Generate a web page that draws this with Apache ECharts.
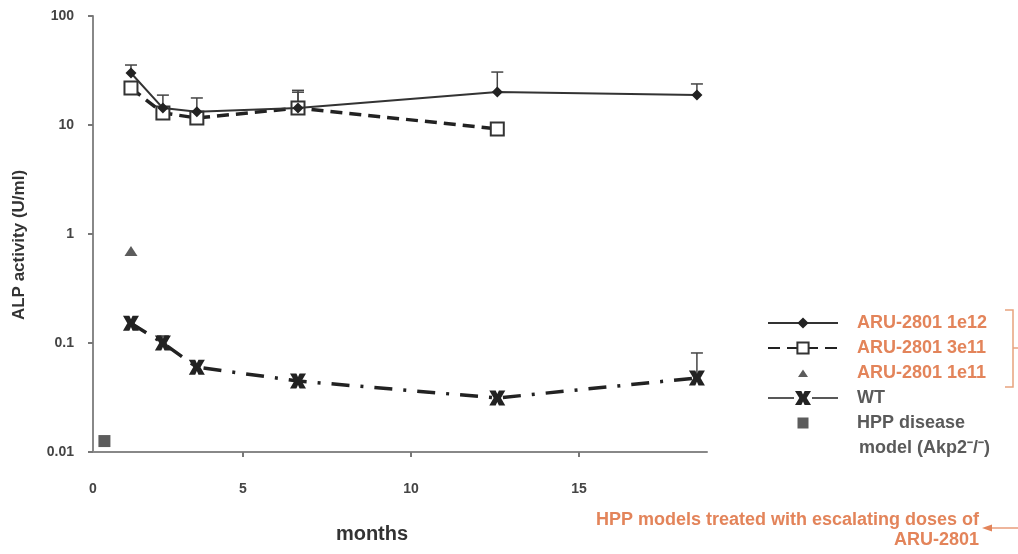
<!DOCTYPE html>
<html>
<head>
<meta charset="utf-8">
<script src="https://cdn.jsdelivr.net/npm/echarts@6/dist/echarts.min.js"></script>
<style>html,body{margin:0;padding:0;background:#fff}#c{width:1018px;height:554px}</style>
</head>
<body>
<div id="c"></div>
<script>
// ---- data ----
const months = [1.67, 2.62, 3.63, 6.64, 12.57, 18.51];
const aru1e12 = [30, 14.3, 13.2, 14.3, 20.1, 18.8];
const aru1e12Err = [35.5, 18.8, 17.7, 20, 30.6, 23.8];
const months3e11 = [1.67, 2.62, 3.63, 6.64, 12.57];
const aru3e11 = [21.8, 12.9, 11.6, 14.3, 9.2];
const aru3e11Err = [null, null, null, 20.8, null];
const months1e11 = [1.67];
const aru1e11 = [0.70];
const wt = [0.152, 0.100, 0.060, 0.0448, 0.0313, 0.0478];
const wtErr = [null, 0.116, null, null, null, 0.081];
const hppMonths = [0.88];
const hpp = [0.0126];
const xTickValues = [5, 10, 15];
const names = ['ARU-2801 1e12', 'ARU-2801 3e11', 'ARU-2801 1e11', 'WT', 'HPP disease model (Akp2\u207B/\u207B)'];

const xMin = 0.54, xMax = 18.81;
const ORANGE = '#e3845a';
const GREY = '#333';
const LGREY = '#5a5a5a';
const FONT = 'Liberation Sans';

function pairs(xs, ys) { return xs.map((x, i) => [x, ys[i]]); }
function errData(xs, ys, tops) {
  const out = [];
  xs.forEach((x, i) => { if (tops[i] != null) out.push([x, ys[i], tops[i]]); });
  return out;
}
function errSeries(data) {
  return {
    type: 'custom', silent: true, z: 1,
    data: data,
    renderItem: function (params, api) {
      const p0 = api.coord([api.value(0), api.value(1)]);
      const p1 = api.coord([api.value(0), api.value(2)]);
      return {
        type: 'group', children: [
          { type: 'line', shape: { x1: p0[0], y1: p0[1], x2: p1[0], y2: p1[1] }, style: { stroke: '#444', lineWidth: 1.5 } },
          { type: 'line', shape: { x1: p1[0] - 6, y1: p1[1], x2: p1[0] + 6, y2: p1[1] }, style: { stroke: '#444', lineWidth: 1.5 } }
        ]
      };
    }
  };
}
const xPath = 'path://M0,0 L4,0 L5,2.4 L6,0 L10,0 L7.3,5 L10,10 L6,10 L5,7.6 L4,10 L0,10 L2.7,5 Z';
const triIcon = 'path://M0,0 M14,14 M7,3.5 L12,11 L2,11 Z';
const sqIcon = 'path://M0,0 M14,14 M1.5,1.5 L12.5,1.5 L12.5,12.5 L1.5,12.5 Z';
const wtIcon = 'path://M0,6.2 L26,6.2 L26,7.8 L0,7.8 Z M44,6.2 L70,6.2 L70,7.8 L44,7.8 Z ' +
  'M27,0 L33.4,0 L35,3.4 L36.6,0 L43,0 L38.7,7 L43,14 L36.6,14 L35,10.6 L33.4,14 L27,14 L31.3,7 Z';

const chart = echarts.init(document.getElementById('c'));
chart.setOption({
  animation: false,
  backgroundColor: '#fff',
  grid: { left: 93, right: 311, top: 16, bottom: 102, outerBoundsMode: 'none' },
  xAxis: {
    type: 'value', min: xMin, max: xMax,
    name: 'months', nameLocation: 'middle', nameGap: 72,
    nameTextStyle: { fontFamily: FONT, fontWeight: 'bold', fontSize: 20, color: GREY, padding: [0, 56, 0, 0] },
    axisLine: { lineStyle: { color: '#888', width: 2 } },
    axisTick: { show: true, length: 5, customValues: xTickValues, lineStyle: { color: '#777', width: 2 } },
    axisLabel: {
      customValues: [xMin].concat(xTickValues), margin: 30,
      formatter: v => (v < 1 ? '0' : String(v)),
      fontFamily: FONT, fontWeight: 'bold', fontSize: 14, color: '#444'
    },
    splitLine: { show: false }
  },
  yAxis: {
    type: 'log', logBase: 10, min: 0.01, max: 100,
    name: 'ALP activity (U/ml)', nameLocation: 'middle', nameGap: 65, nameRotate: 90,
    nameTextStyle: { fontFamily: FONT, fontWeight: 'bold', fontSize: 17, color: GREY, padding: [0, 22, 0, 0] },
    axisLine: { show: true, lineStyle: { color: '#888', width: 2 } },
    axisTick: { show: true, length: 5, lineStyle: { color: '#777', width: 2 } },
    axisLabel: { margin: 19, fontFamily: FONT, fontWeight: 'bold', fontSize: 14, color: '#444',
      formatter: v => String(+v.toPrecision(3)) },
    splitLine: { show: false }
  },
  legend: {
    orient: 'vertical', left: 762, top: 308, itemWidth: 70, itemHeight: 14, itemGap: 5,
    textStyle: { fontFamily: FONT, fontWeight: 'bold', fontSize: 18, color: LGREY, lineHeight: 20, padding: [0, 0, 0, 14] },
    formatter: name => (name === names[4] ? 'HPP disease' : name),
    data: [
      { name: names[0], textStyle: { color: ORANGE } },
      { name: names[1], textStyle: { color: ORANGE } },
      { name: names[2], icon: triIcon, textStyle: { color: ORANGE } },
      { name: names[3], icon: wtIcon },
      { name: names[4], icon: sqIcon }
    ]
  },
  series: [
    errSeries(errData(months, aru1e12, aru1e12Err)),
    errSeries(errData(months3e11, aru3e11, aru3e11Err)),
    errSeries(errData(months, wt, wtErr)),
    {
      name: names[0], type: 'line', data: pairs(months, aru1e12), z: 4,
      symbol: 'diamond', symbolSize: 11,
      itemStyle: { color: '#222' }, lineStyle: { color: '#333', width: 2 }
    },
    {
      name: names[1], type: 'line', data: pairs(months3e11, aru3e11), z: 3,
      symbol: 'rect', symbolSize: 13,
      itemStyle: { color: '#fff', borderColor: '#333', borderWidth: 2 },
      lineStyle: { color: '#222', width: 3.5, type: [12, 7] }
    },
    {
      name: names[2], type: 'scatter', data: pairs(months1e11, aru1e11), z: 3,
      symbol: 'triangle', symbolSize: [13, 10], itemStyle: { color: '#333' }
    },
    {
      name: names[3], type: 'line', data: pairs(months, wt), z: 3,
      symbol: xPath, symbolSize: [16, 15], symbolKeepAspect: false,
      itemStyle: { color: '#222' },
      lineStyle: { color: '#222', width: 3.5, type: [18, 11, 3, 11] }
    },
    {
      name: names[4], type: 'scatter', data: pairs(hppMonths, hpp), z: 3,
      symbol: 'rect', symbolSize: 12, itemStyle: { color: '#333' }
    }
  ],
  graphic: [
    { type: 'text', x: 859, y: 448, style: { text: 'model (Akp2\u207B/\u207B)', fill: LGREY,
      font: 'bold 18px "Liberation Sans"', align: 'left', verticalAlign: 'middle' } },
    { type: 'polyline', shape: { points: [[1005, 310], [1013, 310], [1013, 387], [1005, 387]] },
      style: { stroke: '#e8a27e', lineWidth: 1.5, fill: null } },
    { type: 'line', shape: { x1: 1013, y1: 348, x2: 1018, y2: 348 }, style: { stroke: '#e8a27e', lineWidth: 1.5 } },
    { type: 'text', x: 979, y: 520, style: { text: 'HPP models treated with escalating doses of', fill: ORANGE,
      font: 'bold 18px "Liberation Sans"', align: 'right', verticalAlign: 'middle' } },
    { type: 'text', x: 979, y: 540, style: { text: 'ARU-2801', fill: ORANGE,
      font: 'bold 18px "Liberation Sans"', align: 'right', verticalAlign: 'middle' } },
    { type: 'line', shape: { x1: 990, y1: 528, x2: 1018, y2: 528 }, style: { stroke: ORANGE, lineWidth: 1.2 } },
    { type: 'polygon', shape: { points: [[982, 528], [992, 524.5], [992, 531.5]] }, style: { fill: ORANGE } }
  ]
});
</script>
</body>
</html>
